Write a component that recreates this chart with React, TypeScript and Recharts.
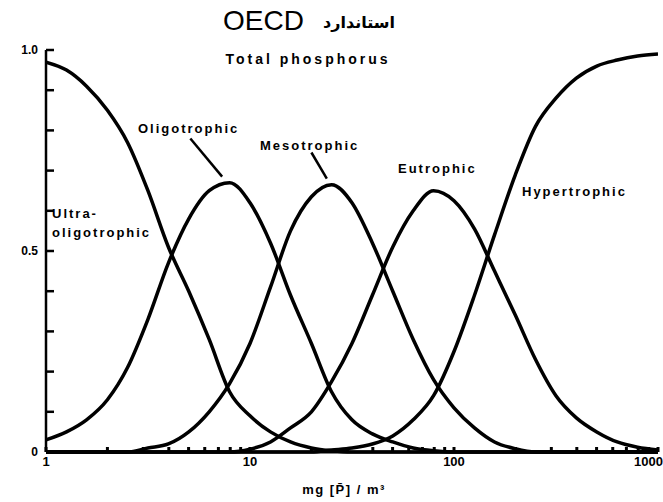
import React from 'react';
import { LineChart, Line, XAxis, YAxis, ReferenceLine } from 'recharts';

// Total phosphorus (mg/m3), log-spaced sample points
const phosphorus = [1, 1.26, 1.58, 2, 2.51, 3.16, 3.98, 5.01, 6.31, 7.94, 10, 12.6, 15.8, 20, 25.1, 31.6, 39.8, 50.1, 63.1, 79.4, 100, 126, 158, 200, 251, 316, 398, 501, 631, 794, 1000];

// probability of each trophic class
const ultraOligotrophic = [0.97, 0.95, 0.91, 0.85, 0.77, 0.65, 0.51, 0.40, 0.28, 0.15, 0.09, 0.05, 0.025, 0.01, 0.003, 0, 0, 0, 0, 0, 0, 0, 0, 0, 0, 0, 0, 0, 0, 0, 0];
const oligotrophic = [0.03, 0.05, 0.08, 0.13, 0.21, 0.33, 0.47, 0.58, 0.65, 0.67, 0.62, 0.52, 0.39, 0.27, 0.15, 0.08, 0.045, 0.025, 0.01, 0.003, 0, 0, 0, 0, 0, 0, 0, 0, 0, 0, 0];
const mesotrophic = [0, 0, 0, 0, 0, 0.01, 0.02, 0.05, 0.10, 0.17, 0.27, 0.41, 0.55, 0.635, 0.665, 0.62, 0.52, 0.40, 0.28, 0.18, 0.11, 0.06, 0.025, 0.008, 0, 0, 0, 0, 0, 0, 0];
const eutrophic = [0, 0, 0, 0, 0, 0, 0, 0, 0, 0, 0.007, 0.025, 0.06, 0.10, 0.175, 0.27, 0.39, 0.51, 0.60, 0.65, 0.625, 0.555, 0.45, 0.34, 0.23, 0.14, 0.085, 0.05, 0.025, 0.012, 0.005];
const hypertrophic = [0, 0, 0, 0, 0, 0, 0, 0, 0, 0, 0, 0, 0, 0, 0.005, 0.01, 0.02, 0.04, 0.08, 0.14, 0.25, 0.39, 0.54, 0.69, 0.81, 0.88, 0.93, 0.96, 0.975, 0.985, 0.99];

const xTicks = [1, 2, 3, 4, 5, 6, 7, 8, 9, 10, 20, 30, 40, 50, 60, 70, 80, 90, 100, 200, 300, 400, 500, 600, 700, 800, 900, 1000];
const xTickLabels = [1, 10, 100, 1000];
const yTicks = [0, 0.1, 0.2, 0.3, 0.4, 0.5, 0.6, 0.7, 0.8, 0.9, 1];
const yTickLabels: Record<string, string> = { '0': '0', '0.5': '0.5', '1': '1.0' };

const seriesKeys = ['ultra', 'oligo', 'meso', 'eutro', 'hyper'];

const data = phosphorus.map((x, i) => ({
  x,
  ultra: ultraOligotrophic[i],
  oligo: oligotrophic[i],
  meso: mesotrophic[i],
  eutro: eutrophic[i],
  hyper: hypertrophic[i],
}));

const font = '"Liberation Sans", Arial, sans-serif';

const XTick = (props: any) => {
  const { x, y, payload } = props;
  const v = payload.value;
  if (!xTickLabels.includes(v)) return null;
  const last = v === xTickLabels[xTickLabels.length - 1];
  return (
    <text
      x={last ? x + 5 : x}
      y={y}
      dy="0.8em"
      textAnchor={last ? 'end' : 'middle'}
      fontSize={13}
      fontWeight={700}
      fontFamily={font}
      fill="#000"
    >
      {String(v)}
    </text>
  );
};

export default function App() {
  return (
    <div style={{ position: 'absolute', left: 0, top: 0, width: 663, height: 502, background: '#fff' }}>
      <LineChart width={663} height={502} data={data} margin={{ top: 50, right: 5, bottom: 20, left: 0 }}>
        <XAxis
          dataKey="x"
          type="number"
          scale="log"
          domain={[1, 1000]}
          ticks={xTicks}
          allowDataOverflow
          height={30}
          tickSize={-5}
          tickMargin={9}
          stroke="#000"
          strokeWidth={3}
          tick={<XTick />}
          interval={0}
        />
        <YAxis
          type="number"
          domain={[0, 1]}
          ticks={yTicks}
          width={46}
          tickSize={-8}
          tickMargin={16}
          stroke="#000"
          strokeWidth={2.5}
          tick={{ fill: '#000', fontSize: 12, fontWeight: 700, fontFamily: font }}
          tickFormatter={(v: number) => yTickLabels[String(v)] ?? ''}
          interval={0}
        />
        {seriesKeys.map((k) => (
          <Line
            key={k}
            dataKey={k}
            type="monotone"
            stroke="#000"
            strokeWidth={3.5}
            dot={false}
            activeDot={false}
            isAnimationActive={false}
          />
        ))}
        <ReferenceLine segment={[{ x: 5.1, y: 0.78 }, { x: 7.3, y: 0.685 }]} stroke="#000" strokeWidth={2.5} />
        <ReferenceLine segment={[{ x: 20, y: 0.745 }, { x: 23.8, y: 0.68 }]} stroke="#000" strokeWidth={2.5} />
      </LineChart>
      <svg width={663} height={502} style={{ position: 'absolute', left: 0, top: 0, pointerEvents: 'none' }}>
        <text x={223} y={30} fontSize={28} fontFamily={font} fill="#000">OECD</text>
        <text x={359} y={28} fontSize={16} fontWeight={700} fontFamily='"DejaVu Sans", sans-serif' fill="#000" textAnchor="middle">استاندارد</text>
        <text x={308} y={64} fontSize={14} fontWeight={700} fontFamily={font} fill="#000" textAnchor="middle" letterSpacing={3}>Total phosphorus</text>
        <g fontSize={13} fontWeight={700} fontFamily={font} fill="#000" letterSpacing={2}>
          <text x={138} y={133}>Oligotrophic</text>
          <text x={260} y={150}>Mesotrophic</text>
          <text x={398} y={173}>Eutrophic</text>
          <text x={522} y={196}>Hypertrophic</text>
          <text x={52} y={218}>Ultra-</text>
          <text x={52} y={237}>oligotrophic</text>
        </g>
        <text x={344} y={494} fontSize={13} fontWeight={700} fontFamily={font} fill="#000" textAnchor="middle" letterSpacing={1.5}>mg [P̄] / m³</text>
      </svg>
    </div>
  );
}
